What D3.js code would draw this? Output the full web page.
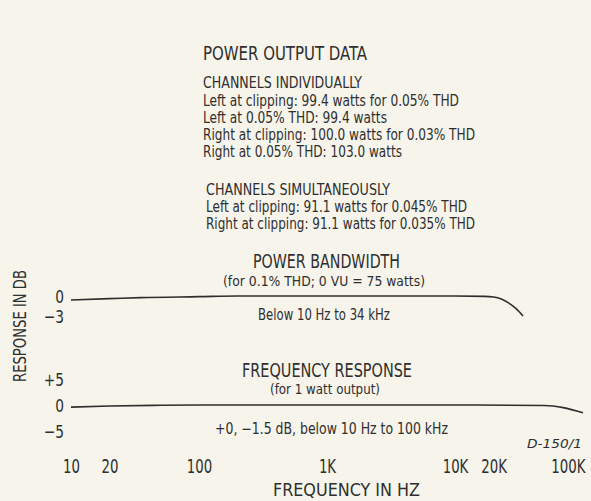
<!DOCTYPE html>
<html>
<head>
<meta charset="utf-8">
<script src="https://cdn.jsdelivr.net/npm/d3@7"></script>
<style>
  html, body { margin: 0; padding: 0; background: #f6f4eb; }
  svg { display: block; }
  text {
    font-family: "Liberation Sans Narrow", "DejaVu Sans Condensed", "Roboto Condensed", "Liberation Sans", sans-serif;
    fill: #2f2f2f;
  }
</style>
</head>
<body>
<svg id="chart" width="591" height="501"></svg>
<script>
// ---- data ----
const freqTicks = [10, 20, 100, 1000, 10000, 20000, 100000];
const freqTickLabels = ["10", "20", "100", "1K", "10K", "20K", "100K"];

// power bandwidth at 0.1% THD (dB re 0 VU = 75 W)
const bandwidthFreq = [10, 20, 35, 100, 200, 1000, 10000, 17000, 20000, 23000, 26000, 30000, 34000];
const bandwidthDb   = [-0.6, -0.4, -0.25, -0.1, 0, 0, 0, -0.05, -0.15, -0.45, -1.0, -1.9, -3];

// frequency response at 1 watt output (dB)
const responseFreq = [10, 20, 50, 100, 1000, 10000, 50000, 70000, 100000];
const responseDb   = [-0.4, -0.2, -0.05, 0, 0, 0, -0.1, -0.5, -1.5];

const bandwidthTicks = [0, -3];
const bandwidthTickLabels = ["0", "\u22123"];
const responseTicks = [5, 0, -5];
const responseTickLabels = ["+5", "0", "\u22125"];

const headerTitle = "POWER OUTPUT DATA";
const individualHeading = "CHANNELS INDIVIDUALLY";
const individualLines = [
  "Left at clipping: 99.4 watts for 0.05% THD",
  "Left at 0.05% THD: 99.4 watts",
  "Right at clipping: 100.0 watts for 0.03% THD",
  "Right at 0.05% THD: 103.0 watts"
];
const simultaneousHeading = "CHANNELS SIMULTANEOUSLY";
const simultaneousLines = [
  "Left at clipping: 91.1 watts for 0.045% THD",
  "Right at clipping: 91.1 watts for 0.035% THD"
];
const bandwidthTitle = "POWER BANDWIDTH";
const bandwidthSubtitle = "(for 0.1% THD; 0 VU = 75 watts)";
const bandwidthRange = "Below 10 Hz to 34 kHz";
const responseTitle = "FREQUENCY RESPONSE";
const responseSubtitle = "(for 1 watt output)";
const responseRange = "+0, \u22121.5 dB, below 10 Hz to 100 kHz";
const figureCode = "D-150/1";
const xTitle = "FREQUENCY IN HZ";
const yTitle = "RESPONSE IN DB";

// ---- drawing ----
const svg = d3.select("#chart");

const x = d3.scaleLog().domain([10, 100000]).range([71, 583]);
const yBand = d3.scaleLinear().domain([-3, 0]).range([316, 296]);
const yResp = d3.scaleLinear().domain([-5, 5]).range([431, 379]);

// text helper: left x, baseline y, size, fitted width
function label(str, x0, y0, size, width, opts = {}) {
  const t = svg.append("text")
    .attr("x", x0).attr("y", y0)
    .style("font-size", size + "px")
    .text(str);
  if (width) t.attr("textLength", width).attr("lengthAdjust", "spacingAndGlyphs");
  if (opts.italic) t.style("font-style", "italic");
  if (opts.transform) t.attr("transform", opts.transform);
  if (opts.anchor) t.attr("text-anchor", opts.anchor);
  return t;
}

// header block
label(headerTitle, 203, 60, 20, 164);
label(individualHeading, 203, 88, 15, 159);
const indWidths = [256, 184, 272, 199];
individualLines.forEach((s, i) => label(s, 203, 106 + i * 17, 15.5, indWidths[i]));
label(simultaneousHeading, 206, 195, 15, 184);
const simWidths = [261, 269];
simultaneousLines.forEach((s, i) => label(s, 206, 212 + i * 17, 15.5, simWidths[i]));

// panel captions
label(bandwidthTitle, 253, 268, 20, 147);
label(bandwidthSubtitle, 223, 286, 14, 202);
label(bandwidthRange, 258, 320, 15, 132);
label(responseTitle, 242, 377, 20, 170);
label(responseSubtitle, 270, 394, 14, 110);
label(responseRange, 215, 434, 15, 233);
label(figureCode, 527, 448, 13, 55, { italic: true });

// curves
const bandLine = d3.line()
  .x((d, i) => x(bandwidthFreq[i]))
  .y(d => yBand(d))
  .curve(d3.curveMonotoneX);
const respLine = d3.line()
  .x((d, i) => x(responseFreq[i]))
  .y(d => yResp(d))
  .curve(d3.curveMonotoneX);

svg.append("path").attr("d", bandLine(bandwidthDb))
  .attr("fill", "none").attr("stroke", "#2e2e2e").attr("stroke-width", 1.6);
svg.append("path").attr("d", respLine(responseDb))
  .attr("fill", "none").attr("stroke", "#2e2e2e").attr("stroke-width", 1.6);

// left scales (numerals narrowed horizontally around their anchor)
function leftAxis(scale, ticks, labels) {
  const g = svg.append("g").attr("transform", "translate(64,0)")
    .call(d3.axisLeft(scale).tickValues(ticks)
      .tickFormat((d, i) => labels[i]).tickSize(0).tickPadding(0));
  g.select(".domain").remove();
  g.selectAll("text")
    .style("font-size", "18px")
    .style("font-family", null)
    .attr("fill", "#2f2f2f")
    .attr("x", 0)
    .attr("dy", "0.36em")
    .attr("transform", "scale(0.85,1)");
  return g;
}
leftAxis(yBand, bandwidthTicks, bandwidthTickLabels);
leftAxis(yResp, responseTicks, responseTickLabels);

// bottom frequency scale
const xk = 0.78;
const xg = svg.append("g").attr("transform", "translate(0,473)")
  .call(d3.axisBottom(x).tickValues(freqTicks)
    .tickFormat((d, i) => freqTickLabels[i]).tickSize(0).tickPadding(0));
xg.select(".domain").remove();
xg.selectAll("text")
  .style("font-size", "19px")
  .style("font-family", null)
  .attr("fill", "#2f2f2f")
  .attr("y", 0)
  .attr("dy", 0)
  .attr("transform", `scale(${xk},1)`);
// keep the last label inside the frame
xg.selectAll(".tick").filter(d => d === 100000).select("text")
  .attr("text-anchor", "end").attr("x", 2 / xk);

// axis titles
label(xTitle, 273, 496, 18, 147);
label(yTitle, 0, 0, 18, 112, { anchor: "middle", transform: "translate(26,326) rotate(-90)" });
</script>
</body>
</html>
